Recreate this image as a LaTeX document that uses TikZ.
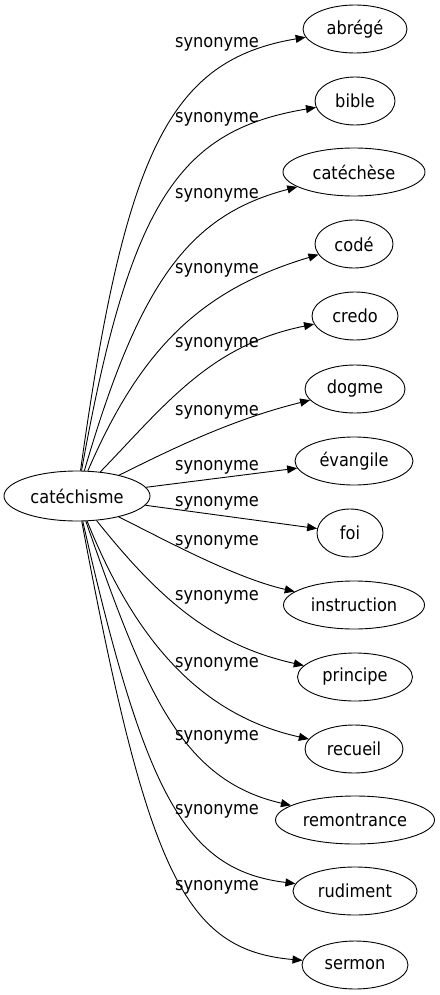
\documentclass[tikz,border=0pt]{standalone}
\usepackage{fontspec}
\setmainfont{DejaVu Sans}[FakeStretch=0.9]
\usetikzlibrary{shapes.geometric,arrows.meta}
\begin{document}
\begin{tikzpicture}[x=1pt,y=-1pt,
  term/.style={draw,ellipse,inner sep=0pt,minimum height=48pt,line width=0.9pt,font=\fontsize{18}{20}\selectfont},
  lbl/.style={inner sep=0pt,font=\fontsize{18}{20}\selectfont},
  syn/.style={draw,line width=0.9pt,-{Triangle[length=10pt,width=8pt]}}]
\useasboundingbox (0,0) rectangle (439,995);
\node[term,minimum width=146pt,minimum height=50pt] (cat) at (77,496) {catéchisme};
\node[term,minimum width=104pt] (t1) at (355,29) {abrégé};
\node[term,minimum width=80pt] (t2) at (355,101) {bible};
\node[term,minimum width=142pt] (t3) at (354,172) {catéchèse};
\node[term,minimum width=78pt] (t4) at (354,244) {codé};
\node[term,minimum width=86pt] (t5) at (355,316) {credo};
\node[term,minimum width=100pt] (t6) at (355,389) {dogme};
\node[term,minimum width=118pt] (t7) at (354,461) {évangile};
\node[term,minimum width=66pt] (t8) at (350,533) {foi};
\node[term,minimum width=141pt] (t9) at (354,605) {instruction};
\node[term,minimum width=115pt] (t10) at (355,677) {principe};
\node[term,minimum width=98pt] (t11) at (354,749) {recueil};
\node[term,minimum width=159pt] (t12) at (355,820) {remontrance};
\node[term,minimum width=124pt] (t13) at (355,891) {rudiment};
\node[term,minimum width=106pt] (t14) at (355,965) {sermon};

\node[lbl] (l1) at (217,44) {synonyme};
\node[lbl] (l2) at (217,119) {synonyme};
\node[lbl] (l3) at (217,195) {synonyme};
\node[lbl] (l4) at (217,270) {synonyme};
\node[lbl] (l5) at (217,344) {synonyme};
\node[lbl] (l6) at (217,412) {synonyme};
\node[lbl] (l7) at (217,467) {synonyme};
\node[lbl] (l8) at (217,503) {synonyme};
\node[lbl] (l9) at (217,542) {synonyme};
\node[lbl] (l10) at (217,597) {synonyme};
\node[lbl] (l11) at (217,664) {synonyme};
\node[lbl] (l12) at (217,737) {synonyme};
\node[lbl] (l13) at (217,811) {synonyme};
\node[lbl] (l14) at (217,887) {synonyme};

\draw[syn] (cat) .. controls (125,150) and (170,60) .. (t1);
\draw[syn] (cat) .. controls (130,200) and (180,130) .. (t2);
\draw[syn] (cat) .. controls (140,280) and (190,215) .. (t3);
\draw[syn] (cat) .. controls (140,350) and (200,290) .. (t4);
\draw[syn] (cat) .. controls (165,405) and (210,345) .. (t5);
\draw[syn] (cat) .. controls (170,450) and (230,420) .. (t6);
\draw[syn] (cat) -- (t7);
\draw[syn] (cat) -- (t8);
\draw[syn] (cat) .. controls (165,540) and (235,578) .. (t9);
\draw[syn] (cat) .. controls (160,600) and (212,645) .. (t10);
\draw[syn] (cat) .. controls (135,640) and (200,715) .. (t11);
\draw[syn] (cat) .. controls (145,690) and (180,780) .. (t12);
\draw[syn] (cat) .. controls (145,795) and (185,870) .. (t13);
\draw[syn] (cat) .. controls (148,875) and (185,950) .. (t14);
\end{tikzpicture}
\end{document}
